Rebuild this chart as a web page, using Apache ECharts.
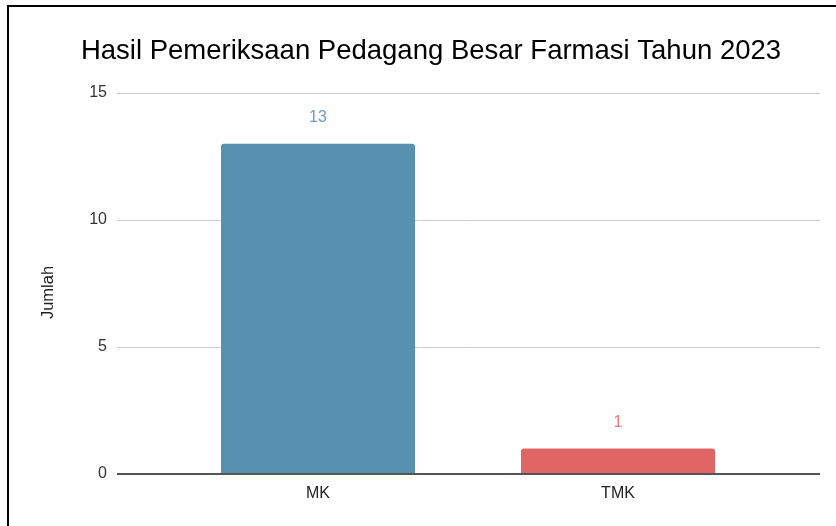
<!DOCTYPE html>
<html>
<head>
<meta charset="utf-8">
<script src="https://cdn.jsdelivr.net/npm/echarts@6/dist/echarts.min.js"></script>
<style>
  html, body { margin: 0; padding: 0; background: #fff; }
  #chart { width: 836px; height: 526px; }
</style>
</head>
<body>
<div id="chart"></div>
<script>
  // data
  var categories = ['MK', 'TMK'];
  var values = [13, 1];
  var barColors = ['#5891af', '#e06666'];
  var labelColors = ['#6a9fbe', '#e87a7a'];
  var yTicks = { min: 0, max: 15, interval: 5 };

  var myChart = echarts.init(document.getElementById('chart'));

  var option = {
    animation: false,
    textStyle: { fontFamily: 'Liberation Sans, Arial, sans-serif' },
    title: {
      text: 'Hasil Pemeriksaan Pedagang Besar Farmasi Tahun 2023',
      left: 426,
      top: 32,
      textAlign: 'center',
      textStyle: { fontSize: 27.5, fontWeight: 'normal', color: '#000', fontFamily: 'Liberation Sans, Arial, sans-serif' }
    },
    graphic: [{
      // outer frame of the picture
      type: 'polyline',
      shape: { points: [[8, 530], [8, 6], [840, 6]] },
      style: { stroke: '#000', lineWidth: 2, fill: null }
    }],
    grid: [
      // full-width grid: gridlines and baseline
      { left: 117, right: 16, top: 93, bottom: 52 },
      // inner grid for the bars
      { left: 168, right: 68, top: 93, bottom: 52 }
    ],
    xAxis: [
      { type: 'category', gridIndex: 0, data: [''], show: false },
      {
        type: 'category', gridIndex: 1, data: categories,
        axisLine: { show: false },
        axisTick: { show: false },
        axisLabel: { color: '#222', fontSize: 16, margin: 12 }
      }
    ],
    yAxis: [
      {
        type: 'value', gridIndex: 0,
        min: yTicks.min, max: yTicks.max, interval: yTicks.interval,
        name: 'Jumlah', nameLocation: 'middle', nameRotate: 90, nameGap: 60,
        nameTextStyle: { fontSize: 16.5, color: '#222', padding: [0, 18, 0, 0] },
        axisLine: { show: false },
        axisTick: { show: false },
        axisLabel: { color: '#333', fontSize: 16, margin: 10 },
        splitLine: { lineStyle: { color: '#cccccc', width: 1 } }
      },
      {
        type: 'value', gridIndex: 1,
        min: yTicks.min, max: yTicks.max, interval: yTicks.interval,
        show: false,
        splitLine: { show: false }
      }
    ],
    series: [
      {
        // baseline at zero
        type: 'line', xAxisIndex: 0, yAxisIndex: 0,
        data: [0], symbol: 'none',
        markLine: {
          silent: true, symbol: 'none',
          label: { show: false },
          lineStyle: { color: '#555', width: 2, type: 'solid' },
          data: [{ yAxis: 0 }]
        }
      },
      {
        type: 'bar', xAxisIndex: 1, yAxisIndex: 1,
        barWidth: 194,
        data: values.map(function (v, i) {
          return {
            value: v,
            itemStyle: { color: barColors[i], borderRadius: [3, 3, 0, 0] },
            label: { color: labelColors[i] }
          };
        }),
        label: {
          show: true, position: 'top', distance: 18, fontSize: 16
        }
      }
    ]
  };

  myChart.setOption(option);
</script>
</body>
</html>
